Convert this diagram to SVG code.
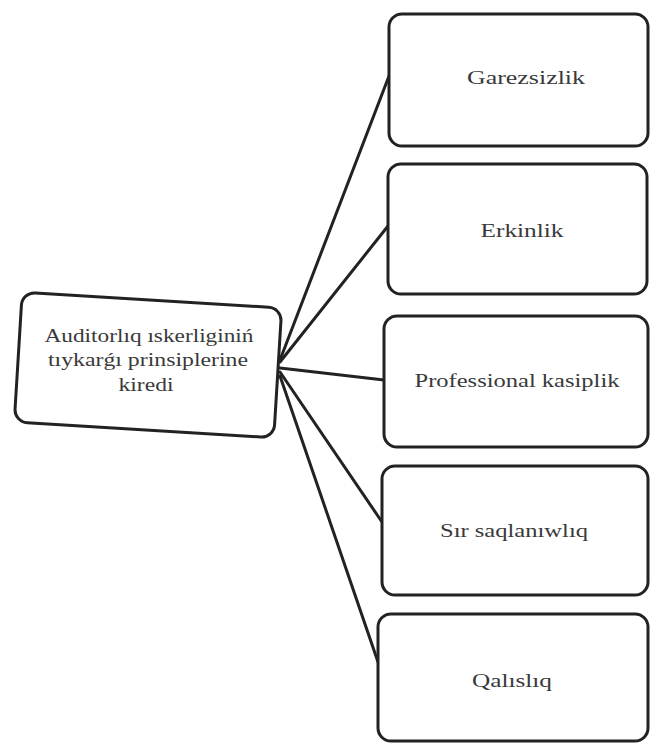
<svg xmlns="http://www.w3.org/2000/svg" width="652" height="744" viewBox="0 0 652 744">
<style>
.box{fill:#fff;stroke:#222;stroke-width:3;}
.t{font-family:"Liberation Serif","Times New Roman","DejaVu Serif",serif;font-size:18px;fill:#3a3a3a;text-anchor:middle;}
.c{stroke:#222;stroke-width:3;fill:none;stroke-linecap:round;}
</style>
<rect width="652" height="744" fill="#fff"/>
<g id="connectors">
<line class="c" x1="280" y1="360" x2="389" y2="76"/>
<line class="c" x1="280" y1="362" x2="388" y2="226"/>
<line class="c" x1="280" y1="368" x2="384" y2="380"/>
<line class="c" x1="280" y1="372" x2="382" y2="522"/>
<line class="c" x1="280" y1="376" x2="378" y2="662"/>
</g>
<g id="main">
<rect class="box" x="18" y="300" width="260" height="130" rx="13" transform="rotate(3.5 148 365)"/>
<text class="t" x="149" y="342" textLength="209" lengthAdjust="spacingAndGlyphs">Auditorlıq ıskerliginiń</text>
<text class="t" x="148" y="366" textLength="200" lengthAdjust="spacingAndGlyphs">tıykarǵı prinsiplerine</text>
<text class="t" x="146" y="391" textLength="55" lengthAdjust="spacingAndGlyphs">kiredi</text>
</g>
<g id="n1">
<rect class="box" x="389" y="14" width="259" height="132" rx="13"/>
<text class="t" x="526" y="84" textLength="118" lengthAdjust="spacingAndGlyphs">Garezsizlik</text>
</g>
<g id="n2">
<rect class="box" x="388" y="164" width="259" height="130" rx="13"/>
<text class="t" x="522" y="237" textLength="83" lengthAdjust="spacingAndGlyphs">Erkinlik</text>
</g>
<g id="n3">
<rect class="box" x="384" y="316" width="264" height="131" rx="13"/>
<text class="t" x="517" y="387" textLength="205" lengthAdjust="spacingAndGlyphs">Professional kasiplik</text>
</g>
<g id="n4">
<rect class="box" x="382" y="466" width="266" height="129" rx="13"/>
<text class="t" x="514" y="537" textLength="148" lengthAdjust="spacingAndGlyphs">Sır saqlanıwlıq</text>
</g>
<g id="n5">
<rect class="box" x="378" y="614" width="270" height="127" rx="13"/>
<text class="t" x="512" y="687" textLength="80" lengthAdjust="spacingAndGlyphs">Qalıslıq</text>
</g>
</svg>
